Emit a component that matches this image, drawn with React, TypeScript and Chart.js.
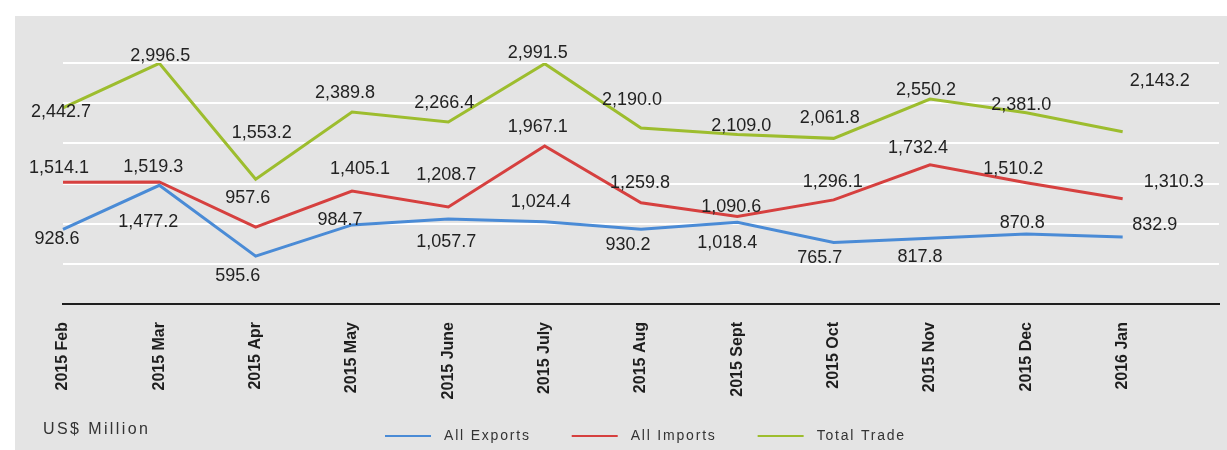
import React, { useEffect, useRef } from 'react';
import { Chart, registerables } from 'chart.js';

Chart.register(...registerables);

// ---- Data ----
const MONTHS = ['2015 Feb', '2015 Mar', '2015 Apr', '2015 May', '2015 June', '2015 July', '2015 Aug', '2015 Sept', '2015 Oct', '2015 Nov', '2015 Dec', '2016 Jan'];
const EXPORTS = [928.6, 1477.2, 595.6, 984.7, 1057.7, 1024.4, 930.2, 1018.4, 765.7, 817.8, 870.8, 832.9];
const IMPORTS = [1514.1, 1519.3, 957.6, 1405.1, 1208.7, 1967.1, 1259.8, 1090.6, 1296.1, 1732.4, 1510.2, 1310.3];
const TOTAL_TRADE = [2442.7, 2996.5, 1553.2, 2389.8, 2266.4, 2991.5, 2190.0, 2109.0, 2061.8, 2550.2, 2381.0, 2143.2];
const SERIES_NAMES = ['All Exports', 'All Imports', 'Total Trade'];
const Y_MIN = 0;
const Y_MAX = 3000;
const Y_STEP = 500;
const UNIT_LABEL = 'US$ Million';

// ---- Styling ----
const COLORS = ['#4a8bd6', '#d6403f', '#9dbd2e'];
const FONT = '"Liberation Sans", Arial, sans-serif';

// label offsets (px) relative to each point, per series
const LABEL_OFFSETS: number[][][] = [
  [[-6, 10], [-11, 37], [-18, 20], [-12, -5], [-2, 23], [-4, -20], [-13, 16], [-10, 21], [-14, 16], [-10, 19], [-4, -11], [32, -12]],
  [[-4, -14], [-6, -15], [-8, -29], [8, -22], [-2, -32], [-7, -19], [-1, -20], [-6, -9], [-1, -18], [-12, -17], [-13, -14], [51, -17]],
  [[-2, 4], [1, -7], [6, -46], [-7, -19], [-4, -19], [-7, -11], [-9, -28], [4, -9], [-4, -20], [-4, -9], [-5, -8], [37, -51]],
];

const fmt = (v: number) => v.toLocaleString('en-US', { minimumFractionDigits: 1, maximumFractionDigits: 1 });

const backgroundPlugin = {
  id: 'panelBg',
  beforeDraw(chart: any) {
    const { ctx, width, height } = chart;
    ctx.save();
    ctx.fillStyle = '#ffffff';
    ctx.fillRect(0, 0, width, height);
    ctx.fillStyle = '#e4e4e4';
    ctx.fillRect(15, 16, width - 15, height - 16);
    ctx.restore();
  },
};

const dataLabelPlugin = {
  id: 'valueLabels',
  afterDatasetsDraw(chart: any) {
    const { ctx } = chart;
    ctx.save();
    ctx.font = `18px ${FONT}`;
    ctx.fillStyle = '#222222';
    ctx.textAlign = 'center';
    ctx.textBaseline = 'middle';
    chart.data.datasets.forEach((ds: any, di: number) => {
      const meta = chart.getDatasetMeta(di);
      meta.data.forEach((pt: any, i: number) => {
        const off = LABEL_OFFSETS[di][i] || [0, -14];
        ctx.fillText(fmt(ds.data[i]), pt.x + off[0], pt.y + off[1]);
      });
    });
    ctx.restore();
  },
};

const legendPlugin = {
  id: 'customLegend',
  afterDraw(chart: any) {
    const { ctx } = chart;
    ctx.save();
    // unit label
    (ctx as any).letterSpacing = '2.4px';
    ctx.font = `16px ${FONT}`;
    ctx.fillStyle = '#333333';
    ctx.textAlign = 'left';
    ctx.textBaseline = 'middle';
    ctx.fillText(UNIT_LABEL, 43, 430);

    // legend
    (ctx as any).letterSpacing = '1.8px';
    ctx.font = `14px ${FONT}`;
    let x = 385;
    const y = 436;
    chart.data.datasets.forEach((ds: any, di: number) => {
      ctx.strokeStyle = COLORS[di];
      ctx.lineWidth = 2;
      ctx.beginPath();
      ctx.moveTo(x, y);
      ctx.lineTo(x + 46, y);
      ctx.stroke();
      x += 46 + 13;
      ctx.fillStyle = '#333333';
      ctx.fillText(ds.label, x, y);
      x += ctx.measureText(ds.label).width + 41;
    });
    (ctx as any).letterSpacing = '0px';
    ctx.restore();
  },
};

export default function App() {
  const canvasRef = useRef<HTMLCanvasElement | null>(null);

  useEffect(() => {
    if (!canvasRef.current) return;
    const series = [EXPORTS, IMPORTS, TOTAL_TRADE];
    const chart = new Chart(canvasRef.current, {
      type: 'line',
      data: {
        labels: [...MONTHS, ''],
        datasets: series.map((d, i) => ({
          label: SERIES_NAMES[i],
          data: d,
          borderColor: COLORS[i],
          backgroundColor: COLORS[i],
          borderWidth: 3,
          pointRadius: 0,
          pointHoverRadius: 0,
          tension: 0,
          fill: false,
        })),
      },
      options: {
        responsive: false,
        animation: false,
        events: [],
        layout: { padding: { left: 63, right: 8, top: 63, bottom: 0 } },
        plugins: {
          legend: { display: false },
          tooltip: { enabled: false },
          title: { display: false },
        },
        scales: {
          x: {
            type: 'category',
            offset: false,
            grid: { display: false, drawTicks: false },
            border: { display: true, color: '#1e1e1e', width: 2 },
            ticks: {
              autoSkip: false,
              minRotation: 90,
              maxRotation: 90,
              padding: 18,
              color: '#1e1e1e',
              font: { family: FONT, size: 16, weight: 'bold' },
            },
            afterFit: (scale: any) => {
              scale.height = 146;
              scale.paddingLeft = 0;
              scale.paddingRight = 0;
            },
          },
          y: {
            min: Y_MIN,
            max: Y_MAX,
            ticks: { display: false, stepSize: Y_STEP },
            grid: { color: '#ffffff', lineWidth: 2, drawTicks: false },
            border: { display: false },
            afterFit: (scale: any) => {
              scale.width = 0;
              scale.paddingTop = 0;
              scale.paddingBottom = 0;
            },
          },
        },
      } as any,
      plugins: [backgroundPlugin, dataLabelPlugin, legendPlugin],
    });
    return () => chart.destroy();
  }, []);

  return (
    <div style={{ position: 'absolute', left: 0, top: 0, width: 1227, height: 450 }}>
      <canvas ref={canvasRef} width={1227} height={450} style={{ display: 'block' }} />
    </div>
  );
}
